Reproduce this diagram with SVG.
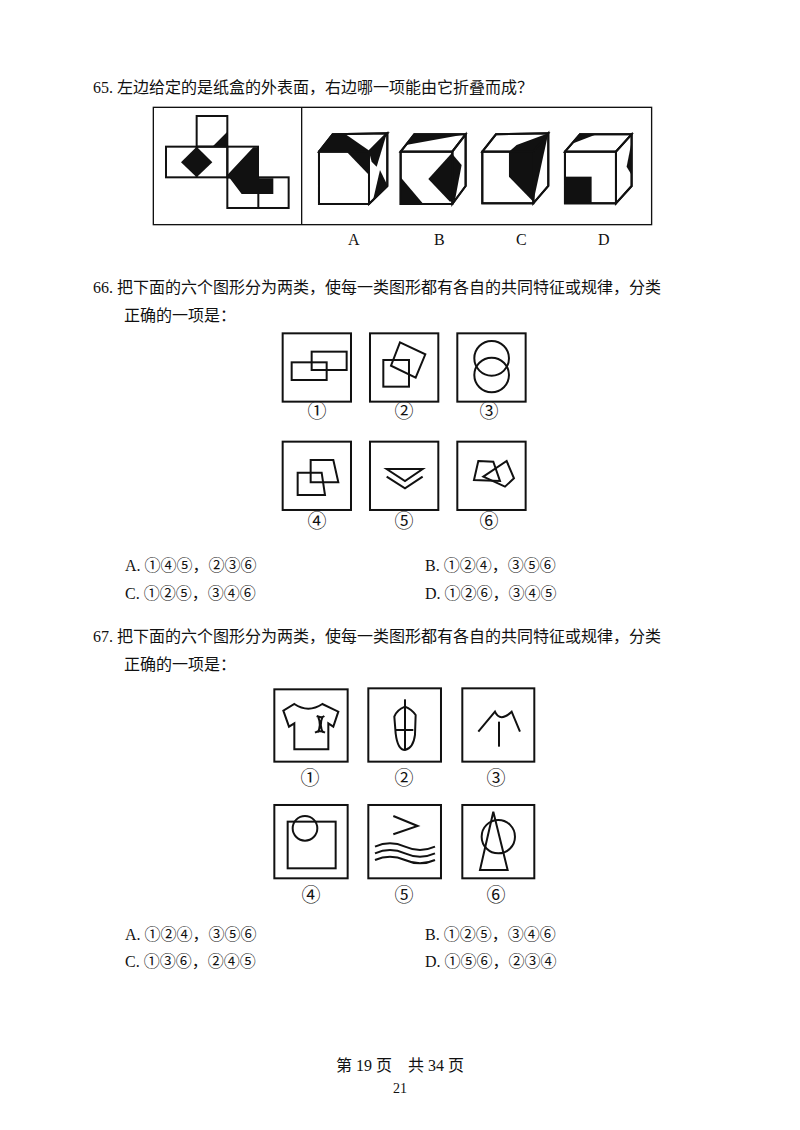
<svg xmlns="http://www.w3.org/2000/svg" width="800" height="1130" viewBox="0 0 800 1130">
<style>
text{font-family:"Liberation Serif","Noto Sans CJK SC",serif;font-size:16px;fill:#111}
.c{text-anchor:middle;font-size:19px}
.z{fill:none;stroke:#111;stroke-width:6}
.zf{fill:#fff;stroke:#111;stroke-width:6}
.b{fill:#111;stroke:none}
</style>
<rect width="800" height="1130" fill="#fff"/>
<text x="93" y="93">65. 左边给定的是纸盒的外表面，右边哪一项能由它折叠而成？</text>
<g id="q65" transform="translate(150,100) scale(0.3333)">
<rect class="z" x="10" y="22" width="1495" height="352" style="stroke-width:4"/>
<line class="z" x1="455" y1="22" x2="455" y2="374" style="stroke-width:4"/>
<g id="net">
<rect class="z" x="140" y="48" width="92" height="92"/>
<rect class="z" x="48" y="140" width="184" height="92"/>
<rect class="z" x="232" y="140" width="92" height="92"/>
<rect class="z" x="232" y="232" width="184" height="92"/>
<line class="z" x1="140" y1="140" x2="140" y2="232"/>
<line class="z" x1="325" y1="232" x2="325" y2="324"/>
<polygon class="b" points="140,140 187,187 140,232 93,187"/>
<polygon class="b" points="232,95 232,140 187,140"/>
<polygon class="b" points="310,142 232,225 275,282 370,282 370,235 325,235 325,142"/>
</g>
<g id="A">
<polygon class="zf" points="507,155 548,103 712,100 657,155"/>
<polygon class="zf" points="657,155 712,100 712,258 657,312"/>
<rect class="zf" x="507" y="155" width="150" height="157"/>
<polygon class="b" points="507,155 548,103 590,105 655,150 657,155"/>
<polygon class="b" points="590,155 657,155 657,225"/>
<polygon class="b" points="657,155 710,102 680,200 665,185"/>
<polygon class="b" points="668,305 712,255 690,210"/>
<polygon class="z" points="507,155 548,103 712,100 712,258 657,312 507,312"/>
<polyline class="z" points="507,155 657,155 712,100"/>
<line class="z" x1="657" y1="155" x2="657" y2="312"/>
</g>
<g id="B">
<polygon class="zf" points="752,155 793,103 947,103 907,155"/>
<polygon class="zf" points="907,155 947,103 947,258 907,312"/>
<rect class="zf" x="752" y="155" width="155" height="157"/>
<polygon class="b" points="768,135 793,103 947,103 880,115"/>
<polygon class="b" points="752,232 752,312 820,312"/>
<polygon class="b" points="835,237 905,160 935,195 915,300 900,305"/>
<polygon class="z" points="752,155 793,103 947,103 947,258 907,312 752,312"/>
<polyline class="z" points="752,155 907,155 947,103"/>
<line class="z" x1="907" y1="155" x2="907" y2="312"/>
</g>
<g id="C">
<polygon class="zf" points="997,155 1038,103 1195,100 1150,155"/>
<polygon class="zf" points="1150,155 1195,100 1195,258 1150,310"/>
<rect class="zf" x="997" y="155" width="153" height="155"/>
<polygon class="b" points="1077,155 1100,135 1195,100 1150,305 1077,230"/>
<polygon class="z" points="997,155 1038,103 1195,100 1195,258 1150,310 997,310"/>
<polyline class="z" points="997,155 1150,155 1195,100"/>
<line class="z" x1="1150" y1="155" x2="1150" y2="310"/>
</g>
<g id="D">
<polygon class="zf" points="1245,155 1290,103 1445,103 1398,155"/>
<polygon class="zf" points="1398,155 1445,103 1445,258 1398,310"/>
<rect class="zf" x="1245" y="155" width="153" height="155"/>
<polygon class="b" points="1270,130 1290,103 1340,103"/>
<rect class="b" x="1245" y="230" width="80" height="80"/>
<polygon class="b" points="1445,125 1430,200 1445,225"/>
<polygon class="z" points="1245,155 1290,103 1445,103 1445,258 1398,310 1245,310"/>
<polyline class="z" points="1245,155 1398,155 1445,103"/>
<line class="z" x1="1398" y1="155" x2="1398" y2="310"/>
</g>
</g>
<text x="348" y="245">A</text>
<text x="434" y="245">B</text>
<text x="516" y="245">C</text>
<text x="598" y="245">D</text>

<text x="93" y="293">66. 把下面的六个图形分为两类，使每一类图形都有各自的共同特征或规律，分类</text>
<text x="124" y="321">正确的一项是：</text>
<g id="q66" transform="translate(270,325) scale(0.3333)">
<g id="f1"><rect class="z" x="38" y="25" width="205" height="205"/><rect class="z" x="65" y="112" width="105" height="53"/><rect class="z" x="125" y="80" width="105" height="55"/></g>
<g id="f2"><rect class="z" x="300" y="25" width="205" height="205"/><rect class="z" x="340" y="105" width="77" height="80"/><polygon class="z" points="390,52 466,88 437,158 363,122"/></g>
<g id="f3"><rect class="z" x="562" y="25" width="205" height="205"/><circle class="z" cx="665" cy="100" r="52"/><circle class="z" cx="665" cy="150" r="52"/></g>
<g id="f4"><rect class="z" x="38" y="350" width="205" height="205"/><polygon class="z" points="83,443 155,443 165,510 83,510"/><polygon class="z" points="122,405 190,405 205,472 122,472"/></g>
<g id="f5"><rect class="z" x="300" y="350" width="205" height="205"/><polygon class="z" points="350,432 458,432 405,468"/><polyline class="z" points="350,455 405,490 458,455"/></g>
<g id="f6"><rect class="z" x="562" y="350" width="205" height="205"/><polygon class="z" points="625,408 670,410 690,468 612,465"/><polygon class="z" points="640,455 710,408 732,460 705,485"/></g>
</g>
<text class="c" x="317" y="418">①</text><text class="c" x="404" y="418">②</text><text class="c" x="489" y="418">③</text>
<text class="c" x="317" y="528">④</text><text class="c" x="404" y="528">⑤</text><text class="c" x="489" y="528">⑥</text>
<text x="125" y="571">A. ①④⑤，②③⑥</text><text x="425" y="571">B. ①②④，③⑤⑥</text>
<text x="125" y="599">C. ①②⑤，③④⑥</text><text x="425" y="599">D. ①②⑥，③④⑤</text>

<text x="93" y="642">67. 把下面的六个图形分为两类，使每一类图形都有各自的共同特征或规律，分类</text>
<text x="124" y="670">正确的一项是：</text>
<g id="q67" transform="translate(265,680) scale(0.3333)">
<g id="g1"><rect class="z" x="28" y="28" width="220" height="217"/>
<path class="z" d="M88,72 Q130,100 172,72 L220,95 L205,140 L190,130 L190,208 L88,208 L88,130 L72,140 L55,92 Z"/>
<path class="z" d="M155,108 Q170,115 178,108 M160,112 Q170,135 158,158 M172,112 Q162,135 174,158 M150,158 Q165,150 180,158"/></g>
<g id="g2"><rect class="z" x="310" y="25" width="218" height="220"/>
<path class="z" d="M420,80 Q395,90 388,110 L392,160 Q398,210 420,210 Q445,205 450,165 L452,105 Q440,88 420,80"/>
<line class="z" x1="420" y1="58" x2="420" y2="208"/><line class="z" x1="390" y1="150" x2="445" y2="150"/></g>
<g id="g3"><rect class="z" x="592" y="25" width="216" height="220"/>
<path class="z" d="M640,155 L690,95 Q705,128 740,95 L765,155"/><line class="z" x1="702" y1="125" x2="702" y2="200"/></g>
<g id="g4"><rect class="z" x="28" y="375" width="220" height="220"/><rect class="z" x="68" y="425" width="144" height="140"/><circle class="z" cx="120" cy="445" r="37"/></g>
<g id="g5"><rect class="z" x="310" y="375" width="218" height="220"/>
<polyline class="z" points="385,408 458,438 385,463"/>
<path class="z" d="M330,500 Q375,480 420,500 T510,500 M330,520 Q375,500 420,520 T510,520 M330,540 Q375,520 420,540 T510,540"/></g>
<g id="g6"><rect class="z" x="592" y="375" width="216" height="220"/>
<polygon class="z" points="685,395 645,570 728,570"/><circle class="z" cx="700" cy="470" r="50"/></g>
</g>
<text class="c" x="310" y="785">①</text><text class="c" x="404" y="785">②</text><text class="c" x="496" y="785">③</text>
<text class="c" x="311" y="902">④</text><text class="c" x="404" y="902">⑤</text><text class="c" x="496" y="902">⑥</text>
<text x="125" y="940">A. ①②④，③⑤⑥</text><text x="425" y="940">B. ①②⑤，③④⑥</text>
<text x="125" y="967">C. ①③⑥，②④⑤</text><text x="425" y="967">D. ①⑤⑥，②③④</text>

<text x="400" y="1071" style="text-anchor:middle">第 19 页　共 34 页</text>
<text x="400" y="1093" style="text-anchor:middle;font-size:14px">21</text>
</svg>
